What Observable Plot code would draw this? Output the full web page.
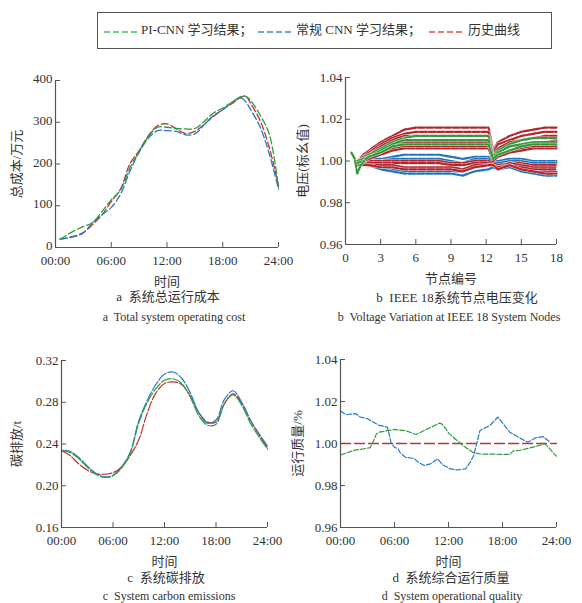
<!DOCTYPE html>
<html><head><meta charset="utf-8">
<script src="https://cdn.jsdelivr.net/npm/d3@7"></script>
<script src="https://cdn.jsdelivr.net/npm/@observablehq/plot@0.6"></script>
<style>
body{margin:0;background:#fff;}
#wrap{position:relative;width:582px;height:603px;font-family:"Liberation Serif","Noto Sans CJK SC",serif;color:#333;overflow:hidden;}
.panel{position:absolute;}
.cap{position:absolute;transform:translateX(-50%);white-space:pre;line-height:1;}
.zh{font-size:13px;}
.en{font-size:12px;}
#legend{position:absolute;left:97px;top:12px;width:453px;height:35px;border:1px solid #555;}
.li{position:absolute;top:10px;font-size:13px;line-height:1;white-space:nowrap;}
.ls{position:absolute;top:17px;}
</style></head>
<body><div id="wrap"></div>
<script>
// ---------- data ----------
const seriesNames = ["PI-CNN 学习结果；", "常规 CNN 学习结果；", "历史曲线"];
const seriesColors = ["#2e9e3c", "#2a78c2", "#c4303a"];
const legendColors = ["#72c984", "#6ea6d9", "#de7a80"];

const timeTicks = [0, 6, 12, 18, 24];
const timeTickLabels = ["00:00", "06:00", "12:00", "18:00", "24:00"];

// a: total operating cost (万元)
const costHours = [0.5, 2, 3, 4, 5, 6, 7, 8, 9, 10, 11, 12, 13, 14, 15, 16, 17, 18, 19, 20, 20.5, 21, 22, 23, 24];
const costPI   = [20, 40, 50, 60, 86, 114, 138, 190, 230, 266, 288, 288, 285, 284, 285, 302, 322, 334, 348, 362, 362, 352, 318, 272, 144];
const costCNN  = [20, 26, 35, 60, 78, 96, 128, 182, 228, 262, 280, 280, 278, 270, 272, 294, 316, 330, 348, 358, 348, 330, 290, 225, 140];
const costHist = [20, 27, 36, 55, 78, 110, 140, 200, 232, 268, 292, 296, 284, 273, 278, 295, 314, 330, 345, 360, 362, 345, 305, 240, 148];
const costTicks = [0, 100, 200, 300, 400];

// b: node voltage (p.u.)
const nodes = [1, 1.5, 2, 3, 4, 5, 6, 7, 8, 9, 10, 11, 12.2, 12.6, 13, 14, 15, 16, 17, 18];
const nodeTicks = [0, 3, 6, 9, 12, 15, 18];
const voltTicks = [0.96, 0.98, 1.00, 1.02, 1.04];
const histUpper = [
  [1.000, 1.003, 1.005, 1.009, 1.012, 1.015, 1.016, 1.016, 1.016, 1.016, 1.016, 1.016, 1.016, 1.005, 1.009, 1.012, 1.014, 1.015, 1.016, 1.016],
  [1.000, 1.002, 1.004, 1.008, 1.011, 1.013, 1.014, 1.014, 1.014, 1.014, 1.014, 1.014, 1.014, 1.004, 1.008, 1.010, 1.012, 1.013, 1.014, 1.014],
  [1.000, 1.002, 1.003, 1.007, 1.010, 1.012, 1.012, 1.012, 1.012, 1.012, 1.012, 1.012, 1.012, 1.003, 1.006, 1.009, 1.010, 1.011, 1.012, 1.012],
  [1.000, 1.001, 1.002, 1.005, 1.007, 1.009, 1.009, 1.009, 1.009, 1.009, 1.009, 1.009, 1.009, 1.002, 1.004, 1.007, 1.008, 1.009, 1.009, 1.010],
  [1.000, 1.001, 1.002, 1.004, 1.006, 1.007, 1.007, 1.007, 1.007, 1.007, 1.007, 1.007, 1.007, 1.001, 1.003, 1.005, 1.006, 1.007, 1.007, 1.007],
  [0.999, 1.000, 1.001, 1.003, 1.005, 1.006, 1.006, 1.006, 1.006, 1.006, 1.006, 1.006, 1.006, 1.000, 1.002, 1.004, 1.005, 1.006, 1.006, 1.006]
];
const piUpper = [
  [1.000, 1.001, 1.003, 1.006, 1.009, 1.011, 1.012, 1.012, 1.012, 1.012, 1.012, 1.012, 1.012, 1.002, 1.005, 1.008, 1.010, 1.011, 1.011, 1.011],
  [1.000, 1.001, 1.002, 1.005, 1.008, 1.010, 1.010, 1.010, 1.010, 1.010, 1.010, 1.010, 1.010, 1.002, 1.004, 1.007, 1.008, 1.009, 1.009, 1.009],
  [0.999, 1.000, 1.002, 1.004, 1.007, 1.008, 1.008, 1.008, 1.008, 1.008, 1.008, 1.008, 1.008, 1.001, 1.003, 1.005, 1.007, 1.008, 1.008, 1.008]
];
const piStartNodes = [0.5, 0.8, 1.0, 1.3, 1.6];
const piStartVals = [1.004, 1.001, 0.994, 0.998, 1.000];
const cnnLower = [
  [1.000, 1.000, 1.001, 1.001, 1.002, 1.003, 1.003, 1.003, 1.003, 1.002, 1.001, 1.002, 1.002, 1.000, 1.000, 1.001, 1.001, 1.000, 1.000, 1.000],
  [1.000, 1.000, 1.000, 1.000, 1.001, 1.001, 1.001, 1.001, 1.001, 1.000, 0.999, 1.001, 1.001, 0.999, 0.999, 1.000, 1.000, 0.999, 0.999, 0.999],
  [1.000, 0.999, 0.998, 0.997, 0.996, 0.995, 0.995, 0.995, 0.995, 0.995, 0.995, 0.997, 0.998, 0.998, 0.997, 0.998, 0.996, 0.995, 0.995, 0.995],
  [1.000, 0.999, 0.998, 0.996, 0.995, 0.994, 0.994, 0.994, 0.994, 0.994, 0.993, 0.995, 0.996, 0.997, 0.996, 0.997, 0.995, 0.994, 0.993, 0.993]
];
const histLower = [
  [0.999, 1.000, 1.000, 1.000, 1.000, 1.000, 1.000, 1.000, 1.000, 0.999, 0.999, 1.000, 1.000, 0.999, 0.998, 0.999, 0.999, 0.998, 0.998, 0.998],
  [0.999, 0.999, 0.999, 0.999, 0.999, 0.999, 0.999, 0.999, 0.999, 0.998, 0.998, 0.999, 0.999, 0.998, 0.997, 0.999, 0.998, 0.997, 0.997, 0.997],
  [0.999, 0.999, 0.998, 0.998, 0.998, 0.997, 0.997, 0.997, 0.997, 0.997, 0.996, 0.998, 0.998, 0.998, 0.997, 0.998, 0.997, 0.996, 0.996, 0.996],
  [0.998, 0.998, 0.998, 0.997, 0.997, 0.996, 0.996, 0.996, 0.996, 0.996, 0.995, 0.997, 0.998, 0.998, 0.996, 0.998, 0.996, 0.995, 0.994, 0.994]
];

// c: carbon emissions (t)
const carbonHours = [0, 1, 2, 3, 4, 5, 6, 7, 8, 9, 10, 11, 12, 13, 14, 15, 16, 17, 18, 19, 20, 21, 22, 23, 24];
const carbonPI   = [0.2336, 0.232, 0.226, 0.218, 0.211, 0.208, 0.2095, 0.217, 0.231, 0.260, 0.280, 0.293, 0.301, 0.3025, 0.298, 0.285, 0.267, 0.258, 0.259, 0.279, 0.287, 0.277, 0.260, 0.247, 0.235];
const carbonCNN  = [0.234, 0.233, 0.227, 0.219, 0.212, 0.2085, 0.210, 0.218, 0.232, 0.262, 0.282, 0.297, 0.307, 0.309, 0.303, 0.289, 0.270, 0.260, 0.263, 0.283, 0.291, 0.280, 0.263, 0.250, 0.238];
const carbonHist = [0.2336, 0.229, 0.221, 0.215, 0.2115, 0.211, 0.2125, 0.218, 0.229, 0.244, 0.270, 0.289, 0.298, 0.2995, 0.297, 0.286, 0.270, 0.261, 0.261, 0.279, 0.288, 0.279, 0.263, 0.249, 0.236];
const carbonTicks = [0.16, 0.20, 0.24, 0.28, 0.32];

// d: operational quality
const qualityTicks = [0.96, 0.98, 1.00, 1.02, 1.04];
const qPIHours = [0, 0.3, 1.5, 3.3, 3.6, 4.0, 4.3, 6.0, 7.3, 8.4, 11.0, 11.3, 12.1, 13.6, 14.7, 15.5, 18.8, 19.2, 19.9, 21.4, 22.7, 23.1, 23.7, 24];
const qPIVals  = [0.9945, 0.995, 0.9967, 0.998, 1.0006, 1.0046, 1.0054, 1.0067, 1.006, 1.0043, 1.0097, 1.0092, 1.0046, 0.999, 0.9958, 0.995, 0.9948, 0.9965, 0.9967, 0.9983, 0.9998, 0.9983, 0.9952, 0.994];
const qCNNHours = [0, 0.6, 1.7, 2.2, 3.0, 4.3, 4.8, 5.2, 5.4, 5.6, 6.0, 6.4, 6.6, 7.2, 8.2, 8.5, 9.3, 10.0, 10.8, 11.3, 12.2, 13.0, 13.9, 14.4, 14.8, 15.5, 16.6, 17.5, 18.8, 20.1, 20.8, 21.7, 22.5, 23.2];
const qCNNVals  = [1.0155, 1.0138, 1.0142, 1.0126, 1.0118, 1.0086, 1.0082, 1.0078, 1.0046, 1.0006, 0.9982, 0.9975, 0.9958, 0.9934, 0.9929, 0.9915, 0.9895, 0.9903, 0.9927, 0.990, 0.9879, 0.9874, 0.9879, 0.991, 0.9943, 1.0062, 1.0086, 1.0126, 1.0054, 1.0022, 1.0006, 1.0027, 1.0033, 1.001];
const qHistHours = [0, 24];
const qHistVals = [1.0, 1.0];

// ---------- helpers ----------
const wrap = document.getElementById("wrap");
const FONT = '"Liberation Serif","Noto Sans CJK SC",serif';
const rows = (xs, ys, id) => xs.map((x, i) => ({x, y: ys[i], id}));
const timeFmt = d => timeTickLabels[timeTicks.indexOf(d)];

function panel({left, top, w, h, ml, mr, mt, mb, xDomain, yDomain, xTicks, xFmt, yTicks, yFmt, xLabel, yLabel, yLabelOffset, yDy = 0, marks}) {
  const chart = Plot.plot({
    width: w, height: h, marginLeft: ml, marginRight: mr, marginTop: mt, marginBottom: mb,
    style: {fontFamily: FONT, fontSize: "13px", color: "#333", background: "transparent", overflow: "visible"},
    x: {domain: xDomain}, y: {domain: yDomain},
    marks: [
      ...marks,
      Plot.ruleX([xDomain[0]], {stroke: "#555", strokeWidth: 1.2}),
      Plot.ruleY([yDomain[0]], {stroke: "#555", strokeWidth: 1.2}),
      Plot.axisX({ticks: xTicks, tickFormat: xFmt, tickSize: -5, tickPadding: 13, stroke: "#555", label: xLabel, labelAnchor: "center", labelOffset: 38, labelArrow: "none"}),
      Plot.axisY({ticks: yTicks, tickSize: -5, stroke: "#555", text: null, label: null}),
      Plot.axisY({ticks: yTicks, tickFormat: yFmt, tickSize: 0, tickPadding: 3, dy: yDy, label: yLabel, labelAnchor: "center", labelOffset: yLabelOffset, labelArrow: "none"})
    ]
  });
  chart.classList.add("panel");
  chart.style.left = left + "px";
  chart.style.top = top + "px";
  wrap.appendChild(chart);
}

// ---------- a ----------
const costData = [
  ...rows(costHours, costPI, 0), ...rows(costHours, costCNN, 1), ...rows(costHours, costHist, 2)
];
panel({left: 0, top: 60, w: 290, h: 230, ml: 55, mr: 12, mt: 20, mb: 43,
  xDomain: [0, 24], yDomain: [0, 400], xTicks: timeTicks, xFmt: timeFmt, yTicks: costTicks, yFmt: d3.format("d"),
  xLabel: "时间", yLabel: "总成本/万元", yLabelOffset: 44, yDy: -1.5,
  marks: [2, 1, 0].map(k => Plot.line(costData.filter(d => d.id === k), {x: "x", y: "y", stroke: seriesColors[k], strokeWidth: 1.3, strokeDasharray: "7,3", curve: "catmull-rom"}))
});

// ---------- b ----------
const vLines = [];
cnnLower.forEach((vals, i) => vLines.push({rows: rows(nodes, vals, "c" + i), color: "#1f74be"}));
histLower.forEach((vals, i) => vLines.push({rows: rows(nodes, vals, "hl" + i), color: "#b3262e"}));
histUpper.forEach((vals, i) => vLines.push({rows: rows(nodes, vals, "hu" + i), color: "#b3262e"}));
piUpper.forEach((vals, i) => vLines.push({rows: rows(nodes, vals, "p" + i), color: "#2f9b3a"}));
vLines.push({rows: rows(piStartNodes, piStartVals, "ps"), color: "#2f9b3a"});
panel({left: 290, top: 60, w: 292, h: 230, ml: 55, mr: 26, mt: 17, mb: 46,
  xDomain: [0, 18], yDomain: [0.96, 1.04], xTicks: nodeTicks, xFmt: d3.format("d"), yTicks: voltTicks, yFmt: d3.format(".2f"),
  xLabel: "节点编号", yLabel: "电压(标幺值)", yLabelOffset: 48,
  marks: vLines.flatMap(l => [
    Plot.line(l.rows, {x: "x", y: "y", stroke: "#fff", strokeWidth: 3.2, strokeOpacity: 0.7}),
    Plot.line(l.rows, {x: "x", y: "y", stroke: l.color, strokeWidth: 2.2, strokeDasharray: "7,1.8"})
  ])
});

// ---------- c ----------
const carbonData = [
  ...rows(carbonHours, carbonPI, 0), ...rows(carbonHours, carbonCNN, 1), ...rows(carbonHours, carbonHist, 2)
];
panel({left: 0, top: 340, w: 290, h: 230, ml: 61, mr: 23, mt: 20, mb: 43,
  xDomain: [0, 24], yDomain: [0.16, 0.32], xTicks: timeTicks, xFmt: timeFmt, yTicks: carbonTicks, yFmt: d3.format(".2f"),
  xLabel: "时间", yLabel: "碳排放/t", yLabelOffset: 50,
  marks: [2, 1, 0].map(k => Plot.line(carbonData.filter(d => d.id === k), {x: "x", y: "y", stroke: seriesColors[k], strokeWidth: 1.2, strokeDasharray: "10,2", curve: "catmull-rom"}))
});

// ---------- d ----------
panel({left: 290, top: 340, w: 292, h: 230, ml: 50, mr: 26, mt: 19, mb: 43,
  xDomain: [0, 24], yDomain: [0.96, 1.04], xTicks: timeTicks, xFmt: timeFmt, yTicks: qualityTicks, yFmt: d3.format(".2f"),
  xLabel: "时间", yLabel: "运行质量/%", yLabelOffset: 48,
  marks: [
    Plot.line(rows(qHistHours, qHistVals, 2), {x: "x", y: "y", stroke: seriesColors[2], strokeWidth: 1.3, strokeDasharray: "10,4"}),
    Plot.line(rows(qPIHours, qPIVals, 0), {x: "x", y: "y", stroke: seriesColors[0], strokeWidth: 1.2, strokeDasharray: "5,2"}),
    Plot.line(rows(qCNNHours, qCNNVals, 1), {x: "x", y: "y", stroke: seriesColors[1], strokeWidth: 1.2, strokeDasharray: "5,2"})
  ]
});

// ---------- legend ----------
const legend = document.createElement("div");
legend.id = "legend";
const legendPos = [[6, 43], [160, 198], [331, 370]];
seriesNames.forEach((name, i) => {
  const s = document.createElementNS("http://www.w3.org/2000/svg", "svg");
  s.setAttribute("width", 34); s.setAttribute("height", 4);
  s.setAttribute("class", "ls"); s.style.left = legendPos[i][0] + "px";
  s.innerHTML = `<line x1="0" y1="2" x2="34" y2="2" stroke="${legendColors[i]}" stroke-width="1.8" stroke-dasharray="6,3"/>`;
  legend.appendChild(s);
  const t = document.createElement("div");
  t.className = "li"; t.style.left = legendPos[i][1] + "px"; t.textContent = name;
  legend.appendChild(t);
});
wrap.appendChild(legend);

// ---------- captions ----------
const captions = [
  ["a  系统总运行成本", "zh", 168, 290], ["a  Total system operating cost", "en", 174, 311],
  ["b  IEEE 18系统节点电压变化", "zh", 457, 291], ["b  Voltage Variation at IEEE 18 System Nodes", "en", 449, 311],
  ["c  系统碳排放", "zh", 166, 571], ["c  System carbon emissions", "en", 169, 590],
  ["d  系统综合运行质量", "zh", 451, 571], ["d  System operational quality", "en", 452, 590]
];
captions.forEach(([txt, cls, cx, ty]) => {
  const d = document.createElement("div");
  d.className = "cap " + cls; d.style.left = cx + "px"; d.style.top = ty + "px";
  d.textContent = txt;
  wrap.appendChild(d);
});
</script></body></html>
